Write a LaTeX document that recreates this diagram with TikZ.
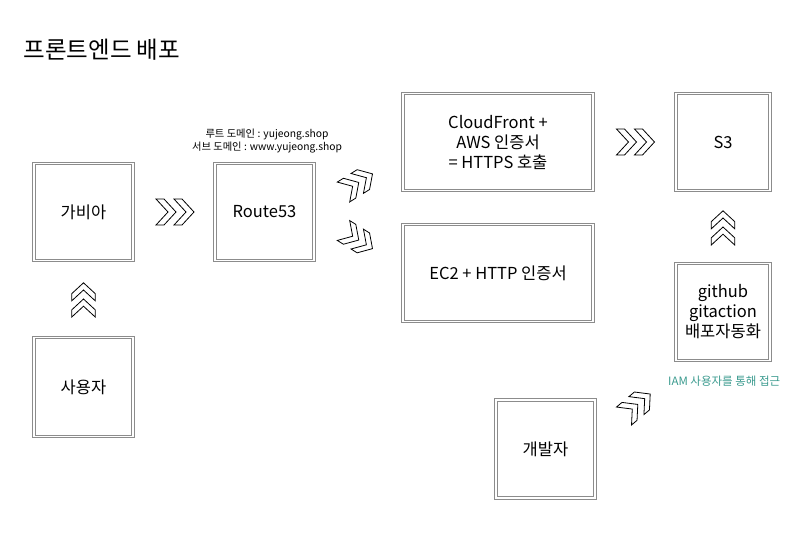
\documentclass[tikz,border=0pt]{standalone}
\usepackage{fontspec}
\setmainfont{Noto Sans CJK KR}
\usetikzlibrary{calc}
\definecolor{teal2}{HTML}{3A9A8E}
\tikzset{
  box/.style={draw=gray!90, double=white, double distance=1.6pt, line width=0.8pt, fill=white, align=center, font=\fontsize{16.5}{20}\selectfont, inner sep=2pt},
  chev/.pic={
    \foreach \d in {0,18}{
      \draw[line width=0.8pt, line join=miter, fill=white] (\d,-13) -- (\d+8,-13) -- (\d+20,0) -- (\d+8,13) -- (\d,13) -- (\d+12,0) -- cycle;
    }
  }
}
\begin{document}
\begin{tikzpicture}[x=1pt,y=-1pt]
\useasboundingbox (0,0) rectangle (803,547);
\node[anchor=west, font=\fontsize{23.5}{28}\selectfont] (title) at (20,50) {프론트엔드 배포};

\node[box, minimum width=99pt, minimum height=97pt] (gabia) at (83.5,212) {가비아};
\node[box, minimum width=99pt, minimum height=99pt] (user) at (83.5,387) {사용자};
\node[box, minimum width=99pt, minimum height=97pt] (route) at (264.5,212) {Route53};
\node[box, minimum width=190pt, minimum height=97pt] (cf) at (498,142) {CloudFront +\\AWS 인증서\\ = HTTPS 호출};
\node[box, minimum width=190pt, minimum height=97pt] (ec2) at (498,273) {EC2 + HTTP 인증서};
\node[box, minimum width=94pt, minimum height=97pt] (s3) at (723,142) {S3};
\node[box, minimum width=94pt, minimum height=97pt] (gh) at (723,312) {github\\gitaction\\배포자동화};
\node[box, minimum width=99pt, minimum height=98pt] (dev) at (545.5,449) {개발자};

\node[align=center, font=\fontsize{10.3}{13}\selectfont, inner sep=0pt] (dom) at (267,141.5) {루트 도메인 : yujeong.shop\\서브 도메인 : www.yujeong.shop};
\node[font=\fontsize{11.5}{14}\selectfont, text=teal2, anchor=west, inner sep=0pt] (iam) at (668,381) {IAM 사용자를 통해 접근};

% chevron connectors
\pic at ($(gabia.east)!0.5!(route.west)+(-18,0)$) {chev};
\pic at ($(cf.east)!0.5!(s3.west)+(-18,0)$) {chev};
\pic[rotate=90, scale=0.9] at ($(user.north)!0.5!(gabia.south)+(0,18)$) {chev};
\pic[rotate=90, scale=0.9] at ($(gh.north)!0.5!(s3.south)+(0,18)$) {chev};
\pic[rotate=32, scale=0.9] at ($(route.north east)!0.5!(cf.south west)+(-15,15)$) {chev};
\pic[rotate=-32, scale=0.9] at ($(route.south east)!0.5!(ec2.north west)+(-15,-12)$) {chev};
\pic[rotate=40, scale=0.9] at (624,416) {chev};
\end{tikzpicture}
\end{document}
